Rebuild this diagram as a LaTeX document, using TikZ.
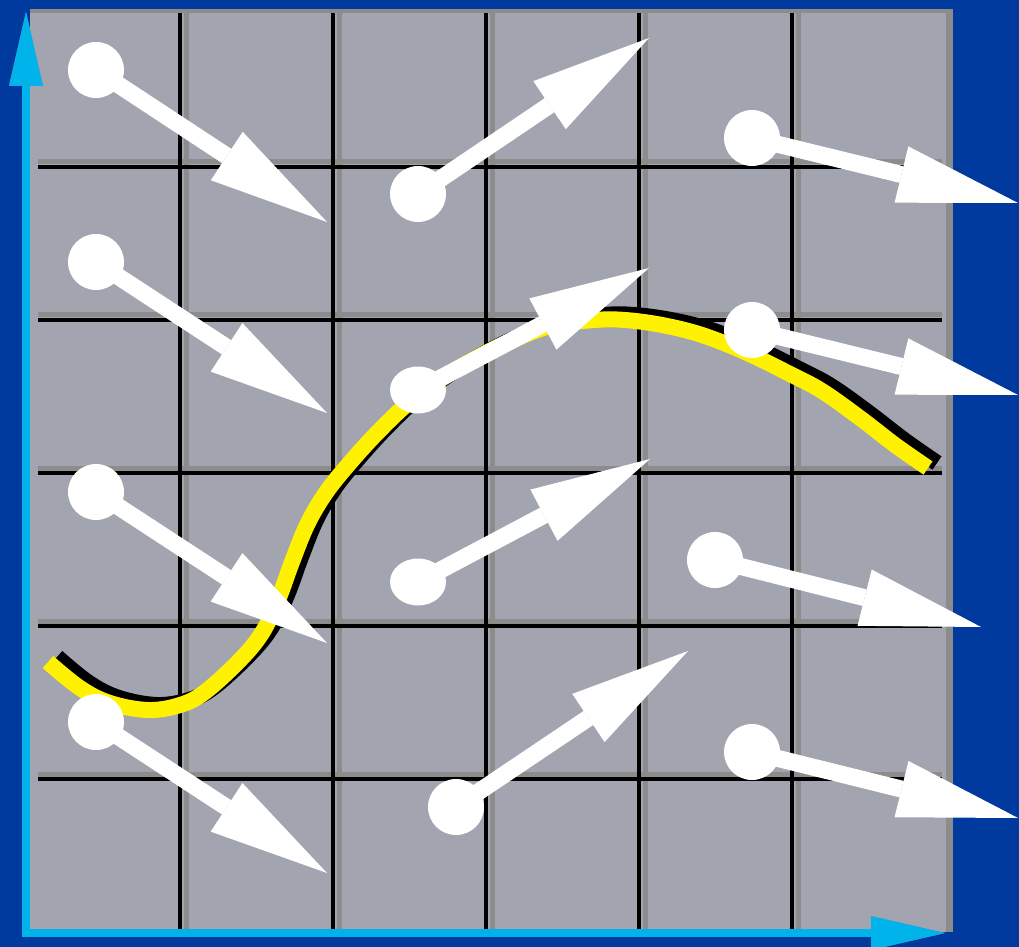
\documentclass[tikz,border=0pt]{standalone}
\usetikzlibrary{arrows.meta,shapes.geometric}
\definecolor{bgBlue}{HTML}{003A9F}
\definecolor{panelFill}{HTML}{A2A4B0}
\definecolor{shadowGray}{HTML}{8C8C8C}
\definecolor{axisCyan}{HTML}{00B4EB}
\definecolor{curveYellow}{HTML}{FFF200}
\begin{document}
\begin{tikzpicture}[
  x=0.2mm,y=-0.2mm,
  tail/.style={circle,fill=white,inner sep=0pt,minimum size=11.2mm},
  flattail/.style={ellipse,fill=white,inner sep=0pt,minimum width=11.2mm,minimum height=9.4mm},
  vec/.style={draw=white,line width=3.4mm,-{Triangle[length=24mm,width=11.6mm,line width=0pt]}},
  axis/.style={line width=1.6mm,{Triangle[length=14.8mm,width=6.8mm,line width=0pt]}-{Triangle[length=14.8mm,width=6.8mm,line width=0pt]}},
  gridline/.style={line width=0.8mm},
  shadowline/.style={draw=shadowGray,line width=1mm},
  trace/.style={line width=3.2mm,line join=round,line cap=butt},
  shade/.style={xshift=1.4mm,yshift=1.2mm},
  traceshade/.style={xshift=1.8mm,yshift=1.0mm}
]
\useasboundingbox (0,0) rectangle (1019,947);
\fill[bgBlue] (0,0) rectangle (1019,947);
\fill[panelFill] (30,9) rectangle (953,932);
\draw[draw=shadowGray,line width=0.9mm] (30,11) -- (949.5,11);
\draw[draw=shadowGray,line width=1.4mm] (949.5,9) -- (949.5,932);
% grid: black rules with a grey rule offset up and right
\foreach \gx in {180,333,486,639,792} \draw[shadowline] (\gx+6,13) -- (\gx+6,930);
\foreach \gy in {167,320,473,626,779} \draw[shadowline] (38,\gy-5) -- (942,\gy-5);
\foreach \gx in {180,333,486,639,792} \draw[gridline] (\gx,13) -- (\gx,930);
\foreach \gy in {167,320,473,626,779} \draw[gridline] (38,\gy) -- (942,\gy);
% axes
\coordinate (orig) at (26,933);
\coordinate (xend) at (945,933);
\coordinate (yend) at (26,12);
\draw[axis,draw=shadowGray,shade] (xend) -- (orig) -- (yend);
\draw[axis,draw=axisCyan] (xend) -- (orig) -- (yend);
% curve with its shadow
\draw[trace,traceshade,black] plot[smooth,tension=0.6] coordinates {
 (48,662) (80,688) (110,703) (148,710) (180,705) (205,692) (240,660) (262,633)
 (278,600) (292,562) (307,525) (325,494) (348,465) (378,432) (412,400) (452,372)
 (500,346) (550,326) (595,320) (625,320) (662,325) (702,335) (745,352) (790,374)
 (822,391) (860,418) (895,445) (928,468)};
\draw[trace,curveYellow] plot[smooth,tension=0.6] coordinates {
 (48,662) (80,688) (110,703) (148,710) (180,705) (205,692) (240,660) (262,633)
 (278,600) (292,562) (307,525) (325,494) (348,465) (378,432) (412,400) (452,372)
 (500,346) (550,326) (595,320) (625,320) (662,325) (702,335) (745,352) (790,374)
 (822,391) (860,418) (895,445) (928,468)};
% field vectors
\node[tail] (v1) at (96,70) {};
\node[tail] (v2) at (96,262) {};
\node[tail] (v3) at (96,492) {};
\node[tail] (v4) at (96,722) {};
\node[tail] (v5) at (418,194) {};
\node[flattail] (v6) at (418,390) {};
\node[flattail] (v7) at (418,582) {};
\node[tail] (v8) at (456,807) {};
\node[tail] (v9) at (752,138) {};
\node[tail] (v10) at (752,330) {};
\node[tail] (v11) at (715,560) {};
\node[tail] (v12) at (752,752) {};
\coordinate (h1) at (327,222);
\coordinate (h2) at (327,413);
\coordinate (h3) at (327,643);
\coordinate (h4) at (327,873);
\coordinate (h5) at (649,38);
\coordinate (h6) at (649,268);
\coordinate (h7) at (650,459);
\coordinate (h8) at (688,651);
\coordinate (h9) at (1018,203);
\coordinate (h10) at (1018,395);
\coordinate (h11) at (981,627);
\coordinate (h12) at (1018,818);
\draw[vec] (v1.center) -- (h1);
\draw[vec] (v2.center) -- (h2);
\draw[vec] (v3.center) -- (h3);
\draw[vec] (v4.center) -- (h4);
\draw[vec] (v5.center) -- (h5);
\draw[vec] (v6.center) -- (h6);
\draw[vec] (v7.center) -- (h7);
\draw[vec] (v8.center) -- (h8);
\draw[vec] (v9.center) -- (h9);
\draw[vec] (v10.center) -- (h10);
\draw[vec] (v11.center) -- (h11);
\draw[vec] (v12.center) -- (h12);
\end{tikzpicture}
\end{document}
